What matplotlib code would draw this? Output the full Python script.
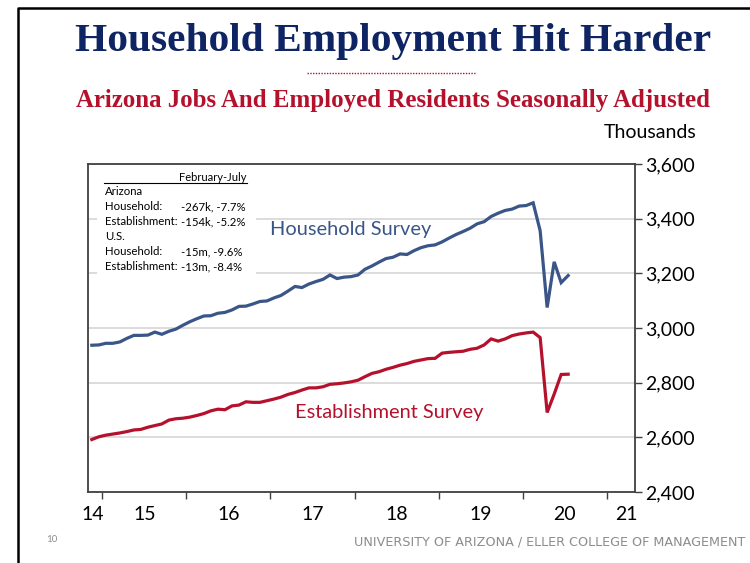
import matplotlib
matplotlib.use("Agg")
import matplotlib.pyplot as plt
import numpy as np
import pandas as pd
from matplotlib.lines import Line2D
from matplotlib.patches import Rectangle
from matplotlib.ticker import FuncFormatter, FixedLocator

# Arizona, thousands, seasonally adjusted, monthly Nov 2014 - Jul 2020
months = pd.date_range("2014-11-01", "2020-07-01", freq="MS")
household = [2937, 2938, 2944, 2944, 2949, 2962, 2973, 2973, 2974, 2985, 2977, 2988,
             2996, 3010, 3023, 3034, 3044, 3045, 3054, 3057, 3066, 3079, 3080, 3088,
             3097, 3099, 3110, 3119, 3135, 3152, 3148, 3161, 3170, 3178, 3194, 3181,
             3186, 3188, 3194, 3215, 3227, 3241, 3254, 3259, 3271, 3269, 3283, 3294,
             3301, 3304, 3315, 3329, 3342, 3353, 3365, 3381, 3389, 3408, 3420, 3430,
             3435, 3446, 3448, 3458, 3356, 3075, 3242, 3166, 3192]
establishment = [2592, 2602, 2608, 2612, 2616, 2621, 2627, 2629, 2637, 2643, 2649, 2663,
                 2668, 2670, 2674, 2680, 2687, 2697, 2703, 2701, 2715, 2718, 2730, 2728,
                 2728, 2734, 2740, 2747, 2757, 2764, 2773, 2781, 2781, 2785, 2794, 2796,
                 2799, 2803, 2809, 2822, 2834, 2840, 2849, 2856, 2864, 2870, 2878, 2883,
                 2888, 2889, 2908, 2911, 2913, 2915, 2922, 2926, 2938, 2960, 2952, 2960,
                 2972, 2978, 2982, 2985, 2965, 2691, 2758, 2830, 2831]

year_ticks = [2015, 2016, 2017, 2018, 2019, 2020, 2021]
year_labels = ["14", "15", "16", "17", "18", "19", "20", "21"]
year_label_pos = [2014.88, 2015.5, 2016.5, 2017.5, 2018.5, 2019.5, 2020.5, 2021.23]
y_ticks = [2400, 2600, 2800, 3000, 3200, 3400, 3600]

box_rows = [("Arizona", ""),
            ("Household:", "-267k, -7.7%"),
            ("Establishment:", "-154k, -5.2%"),
            ("U.S.", ""),
            ("Household:", "-15m, -9.6%"),
            ("Establishment:", "-13m, -8.4%")]

NAVY = "#0f2463"
RED_T = "#b3112c"
BLUE = "#3a5587"
RED = "#b5112d"
SANS = ["Lato", "DejaVu Sans"]

x = months.year + (months.month - 0.5) / 12

fig = plt.figure(figsize=(7.5, 5.63), dpi=100)
ax = fig.add_axes([0.1177, 0.1261, 0.7290, 0.5826])

ax.plot(x, household, color=BLUE, lw=2.3, zorder=3, solid_joinstyle="miter")
ax.plot(x, establishment, color=RED, lw=2.3, zorder=3, solid_joinstyle="miter")

ax.set_xlim(2014.833, 2021.337)
ax.set_ylim(2400, 3600)
ax.yaxis.tick_right()
ax.set_yticks(y_ticks)
ax.yaxis.set_major_formatter(FuncFormatter(lambda v, p: f"{v:,.0f}"))
ax.xaxis.set_major_locator(FixedLocator(year_ticks))
ax.xaxis.set_major_formatter(plt.NullFormatter())
ax.xaxis.set_minor_locator(FixedLocator(year_label_pos))
ax.set_xticklabels(year_labels, minor=True)
ax.tick_params(axis="x", which="major", length=5, width=1, color="#404040")
ax.tick_params(axis="x", which="minor", length=0, pad=10, labelsize=14)
ax.tick_params(axis="y", length=5, width=1, color="#404040", pad=2, labelsize=14)
for lab in ax.get_xticklabels(minor=True) + ax.get_yticklabels():
    lab.set_family(SANS)
for s in ax.spines.values():
    s.set_color("#404040")
    s.set_linewidth(1.3)

ax.grid(axis="y", color="#d9d9d9", lw=1.3, zorder=0)
ax.set_axisbelow(True)

# white text box hides the grid
ax.add_patch(Rectangle((0.016, 0.643), 0.291, 0.35, transform=ax.transAxes,
                       facecolor="white", edgecolor="none", zorder=1))
ax.text(0.290, 0.960, "February-July", transform=ax.transAxes, ha="right",
        va="center", fontsize=8, family=SANS, zorder=4)
ax.add_line(Line2D([0.029, 0.290], [0.942, 0.942], transform=ax.transAxes,
                   color="black", lw=0.8, zorder=4))
for i, (lab, val) in enumerate(box_rows):
    yy = 0.915 - i * 0.0458
    ax.text(0.0305, yy, lab, transform=ax.transAxes, va="center",
            fontsize=8.2, family=SANS, zorder=4)
    if val:
        ax.text(0.170, yy, val, transform=ax.transAxes, va="center",
                fontsize=8.2, family=SANS, zorder=4)

ax.text(0.332, 0.799, "Household Survey", transform=ax.transAxes, color=BLUE,
        va="center", fontsize=14.4, family=SANS)
ax.text(0.378, 0.241, "Establishment Survey", transform=ax.transAxes, color=RED,
        va="center", fontsize=14.4, family=SANS)

# slide decorations
fig.text(0.524, 1 - 41 / 563, "Household Employment Hit Harder", ha="center",
         va="center", fontsize=29.8, fontweight="bold", family="Liberation Serif",
         color=NAVY)
fig.add_artist(Line2D([307 / 750, 475 / 750], [1 - 73 / 563] * 2, color=RED_T,
                      lw=1, ls=(0, (1, 1))))
fig.text(0.524, 1 - 101 / 563,
         "Arizona Jobs And Employed Residents Seasonally Adjusted", ha="center",
         va="center", fontsize=17.9, fontweight="bold", family="Liberation Serif",
         color=RED_T)
fig.text(697 / 750, 1 - 132 / 563, "Thousands", ha="right", va="center",
         fontsize=14, family=SANS)
fig.text(745 / 750, 1 - 542 / 563,
         "UNIVERSITY OF ARIZONA / ELLER COLLEGE OF MANAGEMENT", ha="right",
         va="center", fontsize=9.2, color="#8c8c8c",
         family=["Liberation Sans Narrow", "DejaVu Sans"])
fig.text(52 / 750, 1 - 540 / 563, "10", ha="center", va="center", fontsize=7,
         color="#8c8c8c", family=SANS)
fig.add_artist(Line2D([18 / 750, 18 / 750, 1.0], [0.0, 1 - 8 / 563, 1 - 8 / 563],
                      color="black", lw=1.8))

fig.savefig("out.png", dpi=100)
